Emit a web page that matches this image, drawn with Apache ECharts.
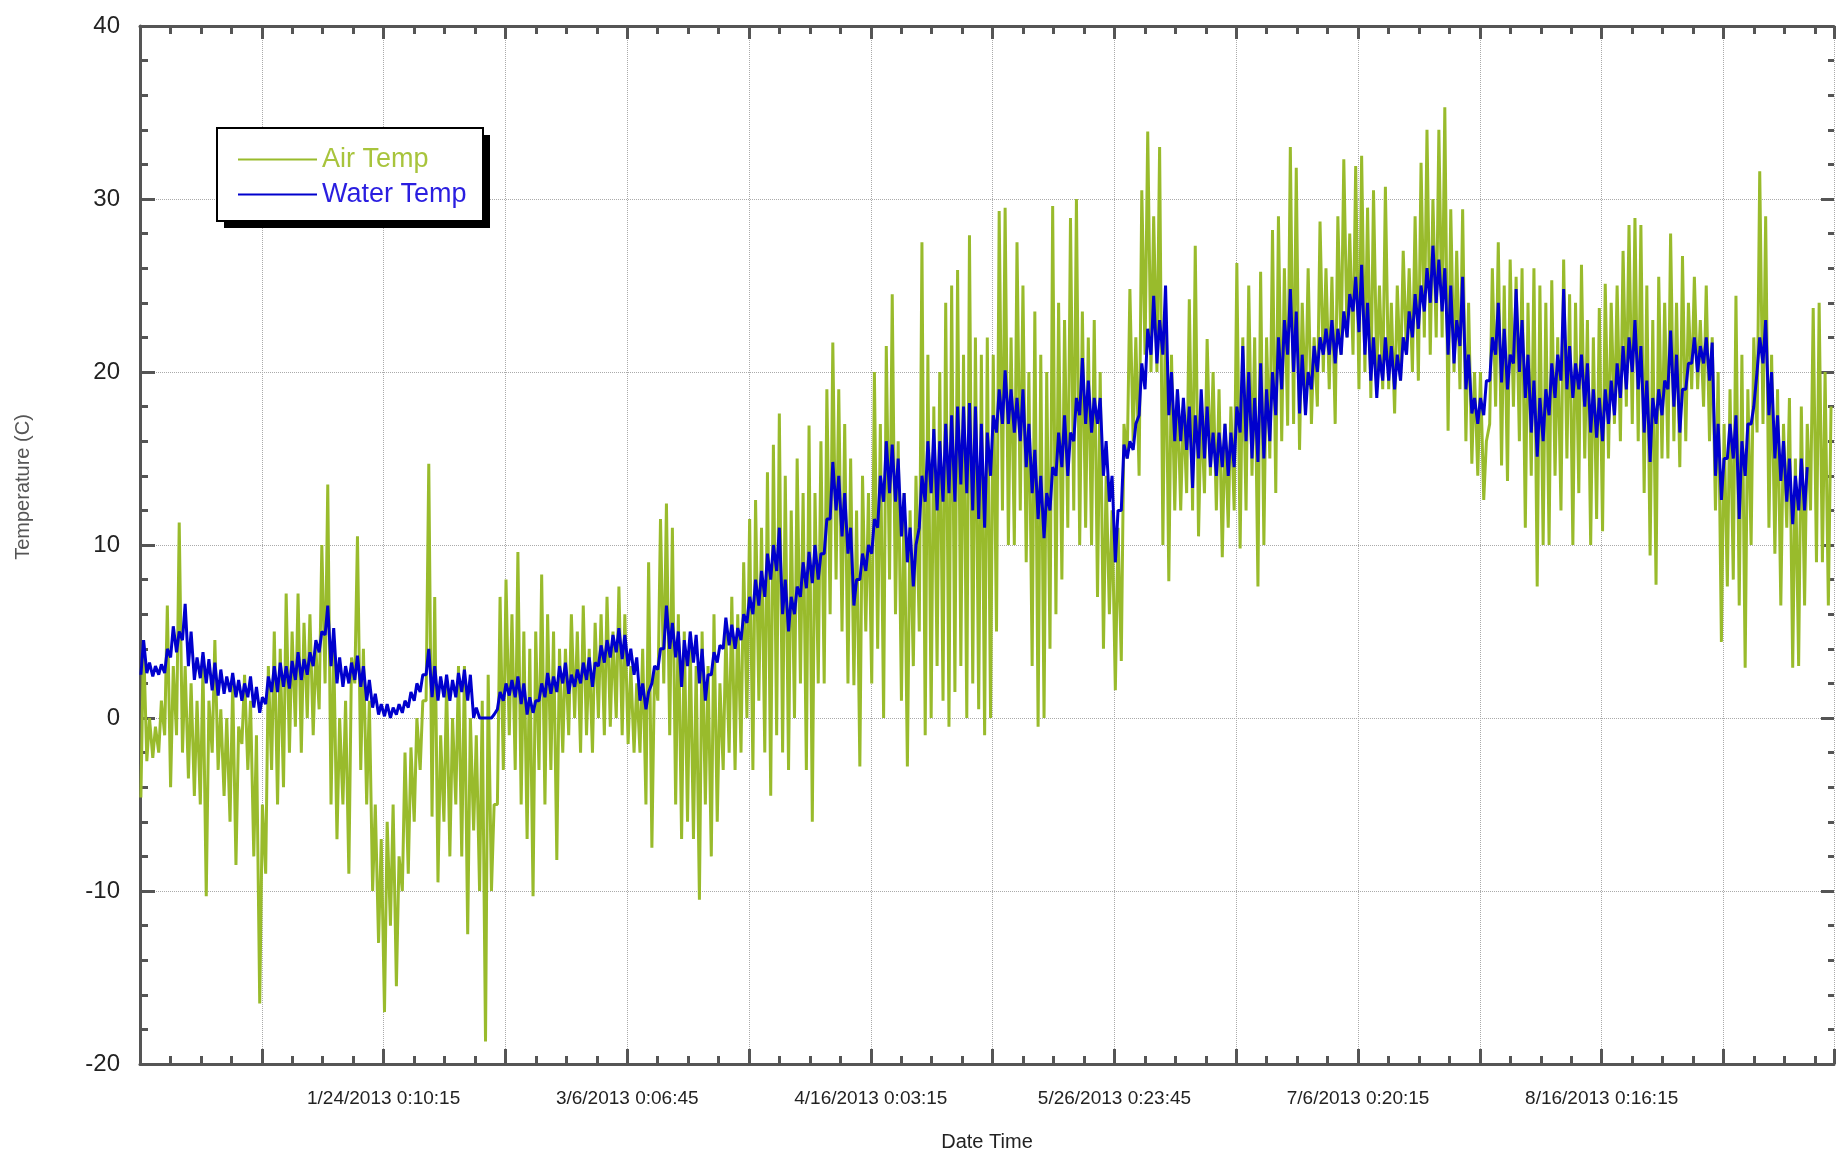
<!DOCTYPE html>
<html>
<head>
<meta charset="utf-8">
<title>Air Temp / Water Temp</title>
<script src="https://cdn.jsdelivr.net/npm/echarts@6/dist/echarts.min.js"></script>
<style>
  html, body { margin: 0; padding: 0; background: #fff; overflow: hidden; }
  #chart-container { width: 1837px; height: 1157px; }
</style>
</head>
<body>
<div id="chart-container"></div>
<script>
// days from the left edge of the plot; one major grid step = 20.5 days
var TICK = 20.5;
var PLOT_W = 1696;
var X_MAX = PLOT_W / 121.95 * TICK;

var dateLabels = ['1/24/2013 0:10:15', '3/6/2013 0:06:45', '4/16/2013 0:03:15',
  '5/26/2013 0:23:45', '7/6/2013 0:20:15', '8/16/2013 0:16:15'];

// daily high / low
var airHigh = [
  4.5, 0, -0.5, 1, 6.5, 3, 11.3, 3, 2, 1,
  3, 1, 4.5, 0.5, 0, 2, -0.5, 2.5, 1, -1,
  -5, 3, 5, 4, 7.2, 5, 7.2, 5.5, 6, 4,
  10, 13.5, 4, 0, 1, 3.5, 10.5, 4, 1, -5,
  -7, -6, -5, -8, -2, -1.7, 0, 1, 14.7, 7,
  -1, 2, 0, 3, 3, 0, -1, 1, 2.5, -5,
  7, 8, 6, 9.6, 5, 4, 5, 8.3, 6, 5,
  4, 4, 6, 5, 6.5, 4, 5.5, 6, 7, 5,
  7.6, 6, 3, 2, 4, 9, 3, 11.5, 12.4, 11,
  6, 5, 4.5, 3, 5, 3, 6, 2, 5, 7,
  6, 9, 11.5, 12.6, 11, 14.2, 15.8, 17.6, 14, 12,
  15, 13, 16.9, 13, 16, 19, 21.7, 19, 17, 15,
  12, 14, 13, 20, 17, 21.5, 24.5, 16, 13, 12,
  14, 27.5, 21, 18, 20, 24, 25, 25.9, 21, 27.9,
  22, 21, 22, 21, 29.3, 29.5, 22, 27.5, 25, 20,
  23.5, 21, 20, 29.6, 24, 23, 28.9, 30, 23.5, 22,
  23, 20, 14, 12, 11, 17, 24.8, 22, 30.5, 33.9,
  29, 33, 24, 21, 19, 18, 24.2, 27.3, 18, 21.9,
  20, 19, 17, 18, 26.3, 22, 25, 22, 25.8, 22,
  28.2, 29, 26, 33, 31.8, 24, 26, 22, 28.7, 26,
  25.5, 29, 32.3, 28, 31.9, 32.5, 29.5, 30.5, 25, 30.7,
  24, 25, 27, 26, 29, 32.1, 34, 30, 34, 35.3,
  29.4, 27, 29.4, 24, 20, 20, 16, 26, 27.5, 25,
  26.5, 25.5, 26, 24, 26, 25, 24, 25.3, 22, 26.5,
  24.5, 24, 26.2, 23, 22, 23.7, 25.1, 24, 25, 27,
  28.5, 28.9, 28.5, 25, 23, 25.5, 24, 28, 24, 26.7,
  24, 25.5, 23, 25, 22, 20, 17, 19, 24.4, 21,
  19, 22, 31.6, 29, 21, 19, 17, 18.5, 15, 18,
  17, 23.7, 24, 20, 18
];
var airLow = [
  -4.6, -2.5, -2.3, -2, -1, -4, -1, -2, -3.5, -4.5,
  -5, -10.3, -2, -3, -4.5, -6, -8.5, -1.5, -3, -8,
  -16.5, -9, -3, -5, -4, -2, -0.5, -2, 0, -1,
  0.5, 2, -5, -7, -5, -9, 2, -3, -5, -10,
  -13, -17, -12, -15.5, -10, -9, -6, -3, 1, -5.7,
  -9.5, -6, -8, -5, -8, -12.5, -6.5, -10, -18.7, -10,
  -5, -3, -1, -3, -5, -7, -10.3, -3, -5, -3,
  -8.2, -2, -1, 0, -2, -1, -2, 0, -1, -0.5,
  0, -1, -1.5, -2, -2, -5, -7.5, 1, 2, -1,
  -5, -7, -6, -7, -10.5, -5, -8, -6, -3, -2,
  -3, -2, 0, -3, 1, -2, -4.5, -1, -2, -3,
  0, 2, -3, -6, 2, 2, 6, 8, 5, 2,
  1.9, -2.8, 5, 2, 4, 0, 8, 6, 1, -2.8,
  3, 5, -1, 0, 3, 1, -0.5, 1.5, 3, 0,
  2, 0.5, -1, 0, 5, 12, 10, 10, 12, 9,
  3, -0.5, 0, 4, 6, 8, 11, 12, 10, 11,
  10, 7, 4, 6, 1.6, 3.3, 15, 16, 14, 21,
  20, 20, 10, 7.9, 12, 12, 13, 12, 10.5, 13,
  14, 12, 9.3, 11, 12, 9.8, 12, 14, 7.6, 10,
  15, 13, 16, 16.9, 17, 15.5, 18, 17, 18, 20,
  19, 17, 21, 22, 21, 19, 20, 18.5, 20, 19,
  19, 17.6, 19.5, 21, 20, 19.5, 22, 21, 22, 22,
  16.6, 20, 19, 16, 14.7, 14, 12.6, 17, 18, 14.6,
  13.7, 18, 16, 11, 14, 7.6, 10, 10, 14, 12,
  15, 10, 13, 15, 10, 11.5, 10.8, 15, 17, 16,
  18, 17, 16, 13, 9.4, 7.7, 15, 15, 16, 14.5,
  16, 19, 19, 18, 16, 12, 4.4, 7.6, 8, 6.5,
  2.9, 10, 16.5, 17, 11, 9.5, 6.5, 11, 2.9, 3,
  6.5, 12, 9, 9, 6.5
];
var waterHigh = [
  4.5, 3.2, 3.0, 3.1, 4.0, 5.3, 5.0, 6.6, 5.0, 3.5,
  3.8, 3.4, 3.2, 2.8, 2.4, 2.6, 2.2, 2.0, 2.4, 1.8,
  1.2, 2.4, 3.0, 3.2, 3.0, 3.3, 3.8, 3.4, 3.8, 4.5,
  5.0, 6.5, 5.2, 3.5, 3.0, 3.2, 3.6, 3.0, 2.2, 1.4,
  0.8, 0.8, 0.6, 0.8, 1.0, 1.5, 2.0, 2.5, 4.0, 3.0,
  2.4, 2.5, 2.2, 2.6, 2.8, 2.5, 0.6, 0, 0, 0.2,
  1.5, 2.0, 2.2, 2.4, 2.0, 1.2, 1.0, 2.0, 2.6, 2.4,
  3.0, 3.2, 2.5, 2.8, 3.2, 3.5, 3.2, 4.2, 4.5, 4.8,
  5.2, 4.8, 4.0, 3.5, 2.0, 1.5, 3.0, 4.0, 6.5, 5.5,
  5.0, 4.5, 5.0, 4.8, 4.0, 2.5, 3.8, 4.2, 5.8, 5.4,
  5.2, 6.0, 7.0, 8.0, 8.5, 9.5, 10.0, 11.0, 8.0, 7.0,
  7.6, 9.0, 9.6, 10.0, 9.5, 11.5, 14.8, 14.0, 13.0, 11.0,
  8.0, 9.5, 10.0, 11.5, 14.0, 16.0, 15.8, 15.0, 13.0, 11.0,
  10.0, 14.0, 16.0, 16.7, 16.0, 17.0, 17.5, 18.0, 18.0, 18.2,
  18.0, 17.0, 16.5, 17.5, 19.0, 20.1, 19.0, 18.5, 19.0, 17.0,
  15.5, 14.0, 13.0, 14.5, 16.5, 17.5, 16.5, 18.5, 20.8, 19.5,
  18.5, 18.5, 16.0, 14.0, 12.0, 15.8, 16.0, 17.0, 20.5, 22.5,
  24.4, 23.0, 25.0, 20.0, 19.0, 18.5, 18.0, 17.5, 19.0, 18.0,
  16.5, 16.5, 17.0, 16.5, 18.0, 21.5, 20.0, 18.5, 20.5, 19.0,
  20.0, 22.0, 23.0, 24.8, 23.5, 21.0, 20.0, 21.5, 22.0, 22.5,
  23.0, 22.5, 23.5, 24.5, 25.5, 26.2, 24.0, 22.0, 21.0, 22.0,
  21.5, 21.0, 22.0, 23.5, 24.5, 25.0, 26.0, 27.3, 26.5, 26.0,
  25.0, 23.0, 25.5, 21.0, 18.5, 18.5, 19.5, 22.0, 24.0, 22.5,
  21.0, 24.8, 23.0, 21.0, 19.5, 18.5, 19.0, 20.5, 21.0, 24.8,
  21.5, 20.5, 21.0, 20.5, 19.0, 18.5, 19.0, 19.5, 20.5, 21.5,
  22.0, 23.0, 21.5, 19.5, 18.5, 19.0, 19.5, 22.4, 21.0, 19.0,
  20.5, 22.0, 21.5, 22.0, 21.7, 17.0, 15.0, 17.0, 17.5, 16.0,
  17.0, 18.0, 22.0, 23.0, 20.0, 17.5, 16.0, 15.0, 14.0, 15.0,
  14.5
];
var waterLow = [
  2.5, 2.6, 2.4, 2.5, 2.6, 3.5, 3.8, 4.5, 3.0, 2.2,
  2.3, 2.0, 1.6, 1.3, 1.4, 1.5, 1.2, 1.0, 1.2, 0.6,
  0.3, 0.8, 1.5, 1.5, 1.8, 1.7, 2.2, 2.2, 2.5, 3.0,
  3.8, 4.8, 3.0, 2.0, 1.8, 2.0, 2.2, 1.8, 1.0, 0.6,
  0.2, 0.1, 0, 0.2, 0.3, 0.6, 1.0, 1.5, 2.5, 1.2,
  1.0, 1.2, 1.0, 1.2, 1.5, 1.0, 0, 0, 0, 0,
  0.5, 1.0, 1.3, 1.2, 0.8, 0.2, 0.3, 1.0, 1.2, 1.4,
  1.5, 2.0, 1.4, 1.8, 2.0, 2.2, 1.8, 3.0, 3.2, 3.5,
  3.8, 3.4, 3.0, 2.5, 1.0, 0.5, 2.0, 2.8, 4.0, 4.0,
  3.5, 1.8, 3.0, 3.2, 2.0, 1.0, 2.5, 3.2, 4.0, 4.2,
  4.0, 4.5, 5.5, 6.0, 6.5, 7.0, 8.0, 8.5, 6.0, 5.0,
  6.0, 7.0, 7.5, 7.8, 8.0, 9.5, 11.5, 12.0, 10.5, 9.5,
  6.5, 8.0, 8.5, 9.5, 11.0, 12.5, 13.0, 12.5, 10.5, 9.0,
  7.6, 11.0, 12.5, 13.0, 12.0, 12.5, 13.0, 12.5, 13.5, 13.0,
  12.0, 11.5, 11.0, 14.0, 16.5, 17.0, 17.0, 16.5, 16.0, 14.5,
  13.0, 11.5, 10.4, 12.0, 14.0, 14.5, 14.0, 16.0, 17.5, 17.0,
  16.5, 17.0, 14.0, 12.5, 9.0, 12.0, 15.0, 15.5, 17.5, 19.0,
  21.0, 20.5, 21.0, 17.5, 16.0, 16.0, 15.5, 13.3, 15.0, 15.0,
  14.5, 14.0, 14.5, 14.0, 14.5, 16.5, 16.0, 15.0, 14.8, 15.0,
  16.0, 17.5, 19.0, 21.0, 20.0, 17.6, 17.5, 19.0, 20.0, 21.0,
  21.0, 20.5, 21.0, 22.0, 23.5, 22.3, 21.0, 19.5, 18.5, 19.5,
  19.5, 19.0, 19.5, 21.0, 22.0, 22.5, 23.5, 24.0, 24.0, 23.5,
  21.0, 20.5, 21.5, 19.0, 17.6, 17.0, 17.5, 19.5, 21.0, 19.4,
  19.0, 20.5, 20.0, 18.5, 16.5, 15.1, 16.0, 17.5, 18.5, 19.5,
  19.0, 18.5, 19.0, 18.0, 16.5, 16.2, 16.0, 17.0, 17.5, 18.5,
  19.0, 20.0, 19.0, 16.5, 14.8, 17.0, 17.5, 19.0, 18.0, 16.5,
  19.0, 20.5, 20.0, 20.5, 19.5, 14.0, 12.6, 15.0, 15.0, 11.5,
  14.0, 17.0, 20.0, 20.5, 17.5, 15.0, 13.7, 12.5, 11.2, 12.0,
  12.0
];

var AIR_COLOR = '#99bb2c';
var WATER_COLOR = '#0000cd';
var AXIS_COLOR = '#555';
var FONT = 'Liberation Sans, Arial, sans-serif';

// low in the early morning, high in the afternoon
function dailyPoints(hi, lo) {
  var pts = [];
  for (var d = 0; d < hi.length; d++) {
    pts.push([d + 0.15, lo[d]]);
    pts.push([d + 0.6, hi[d]]);
  }
  return pts;
}

function dateLabel(v) {
  var k = Math.round(v / TICK);
  if (Math.abs(v - k * TICK) > 0.01 || k % 2 !== 0 || k < 2) return '';
  return dateLabels[k / 2 - 1] || '';
}

var dom = document.getElementById('chart-container');
var myChart = echarts.init(dom, null, { renderer: 'canvas' });

var tickStyle = { color: AXIS_COLOR, width: 3 };

var option = {
  animation: false,
  backgroundColor: '#fff',
  grid: { left: 140, top: 26, width: PLOT_W, height: 1042 },
  xAxis: [
    {
      type: 'value', min: 0, max: X_MAX, interval: TICK, position: 'bottom',
      axisLine: { onZero: false, lineStyle: { color: AXIS_COLOR, width: 3 } },
      axisTick: { inside: true, length: 15, lineStyle: tickStyle },
      minorTick: { show: true, splitNumber: 4, length: 8, lineStyle: tickStyle },
      splitLine: { show: true, lineStyle: { color: '#aaa', type: 'dotted', width: 1 } },
      axisLabel: { formatter: dateLabel, fontSize: 19, color: '#222', margin: 25, fontFamily: FONT },
      name: 'Date Time', nameLocation: 'middle', nameGap: 68,
      nameTextStyle: { fontSize: 20, color: '#222', fontFamily: FONT }
    },
    {
      type: 'value', min: 0, max: X_MAX, interval: TICK, position: 'top',
      axisLine: { onZero: false, lineStyle: { color: AXIS_COLOR, width: 3 } },
      axisTick: { inside: true, length: 13, lineStyle: tickStyle },
      minorTick: { show: true, splitNumber: 4, length: 8, lineStyle: tickStyle },
      splitLine: { show: false },
      axisLabel: { show: false }
    }
  ],
  yAxis: [
    {
      type: 'value', min: -20, max: 40, interval: 10, position: 'left',
      axisLine: { onZero: false, lineStyle: { color: AXIS_COLOR, width: 3 } },
      axisTick: { inside: true, length: 15, lineStyle: tickStyle },
      minorTick: { show: true, splitNumber: 5, length: 8, lineStyle: tickStyle },
      splitLine: { show: true, lineStyle: { color: '#aaa', type: 'dotted', width: 1 } },
      axisLabel: { fontSize: 24, color: '#222', margin: 20, fontFamily: FONT }
    },
    {
      // the right border itself falls just outside the page; only its ticks show
      type: 'value', min: -20, max: 40, interval: 10, position: 'right',
      axisLine: { show: false, onZero: false },
      axisTick: { show: true, inside: true, length: 13, lineStyle: tickStyle },
      minorTick: { show: true, splitNumber: 5, length: 6, lineStyle: tickStyle },
      splitLine: { show: false },
      axisLabel: { show: false }
    }
  ],
  legend: {
    orient: 'vertical', left: 233, top: 141, itemGap: 8,
    itemWidth: 79, itemHeight: 2, icon: 'rect', z: 20,
    textStyle: { fontSize: 27, fontFamily: FONT },
    data: [
      { name: 'Air Temp', textStyle: { color: '#a8c43c' } },
      { name: 'Water Temp', textStyle: { color: '#2a1ee0' } }
    ]
  },
  graphic: [
    {
      type: 'rect', z: 14, silent: true,
      shape: { x: 224, y: 135, width: 266, height: 93 },
      style: { fill: '#000' }
    },
    {
      type: 'rect', z: 15, silent: true,
      shape: { x: 217, y: 128, width: 266, height: 93 },
      style: { fill: '#fff', stroke: '#000', lineWidth: 2 }
    },
    {
      type: 'text', z: 15, silent: true, x: 23, y: 487, rotation: Math.PI / 2,
      style: { text: 'Temperature (C)', fontSize: 20, fontFamily: FONT, fill: '#555',
        align: 'center', verticalAlign: 'middle' }
    }
  ],
  series: [
    {
      name: 'Air Temp', type: 'line', symbol: 'none', sampling: false,
      data: dailyPoints(airHigh, airLow),
      lineStyle: { color: AIR_COLOR, width: 3 },
      itemStyle: { color: AIR_COLOR },
      z: 2
    },
    {
      name: 'Water Temp', type: 'line', symbol: 'none',
      data: dailyPoints(waterHigh, waterLow),
      lineStyle: { color: WATER_COLOR, width: 3 },
      itemStyle: { color: WATER_COLOR },
      z: 3
    }
  ]
};

myChart.setOption(option);
</script>
</body>
</html>
